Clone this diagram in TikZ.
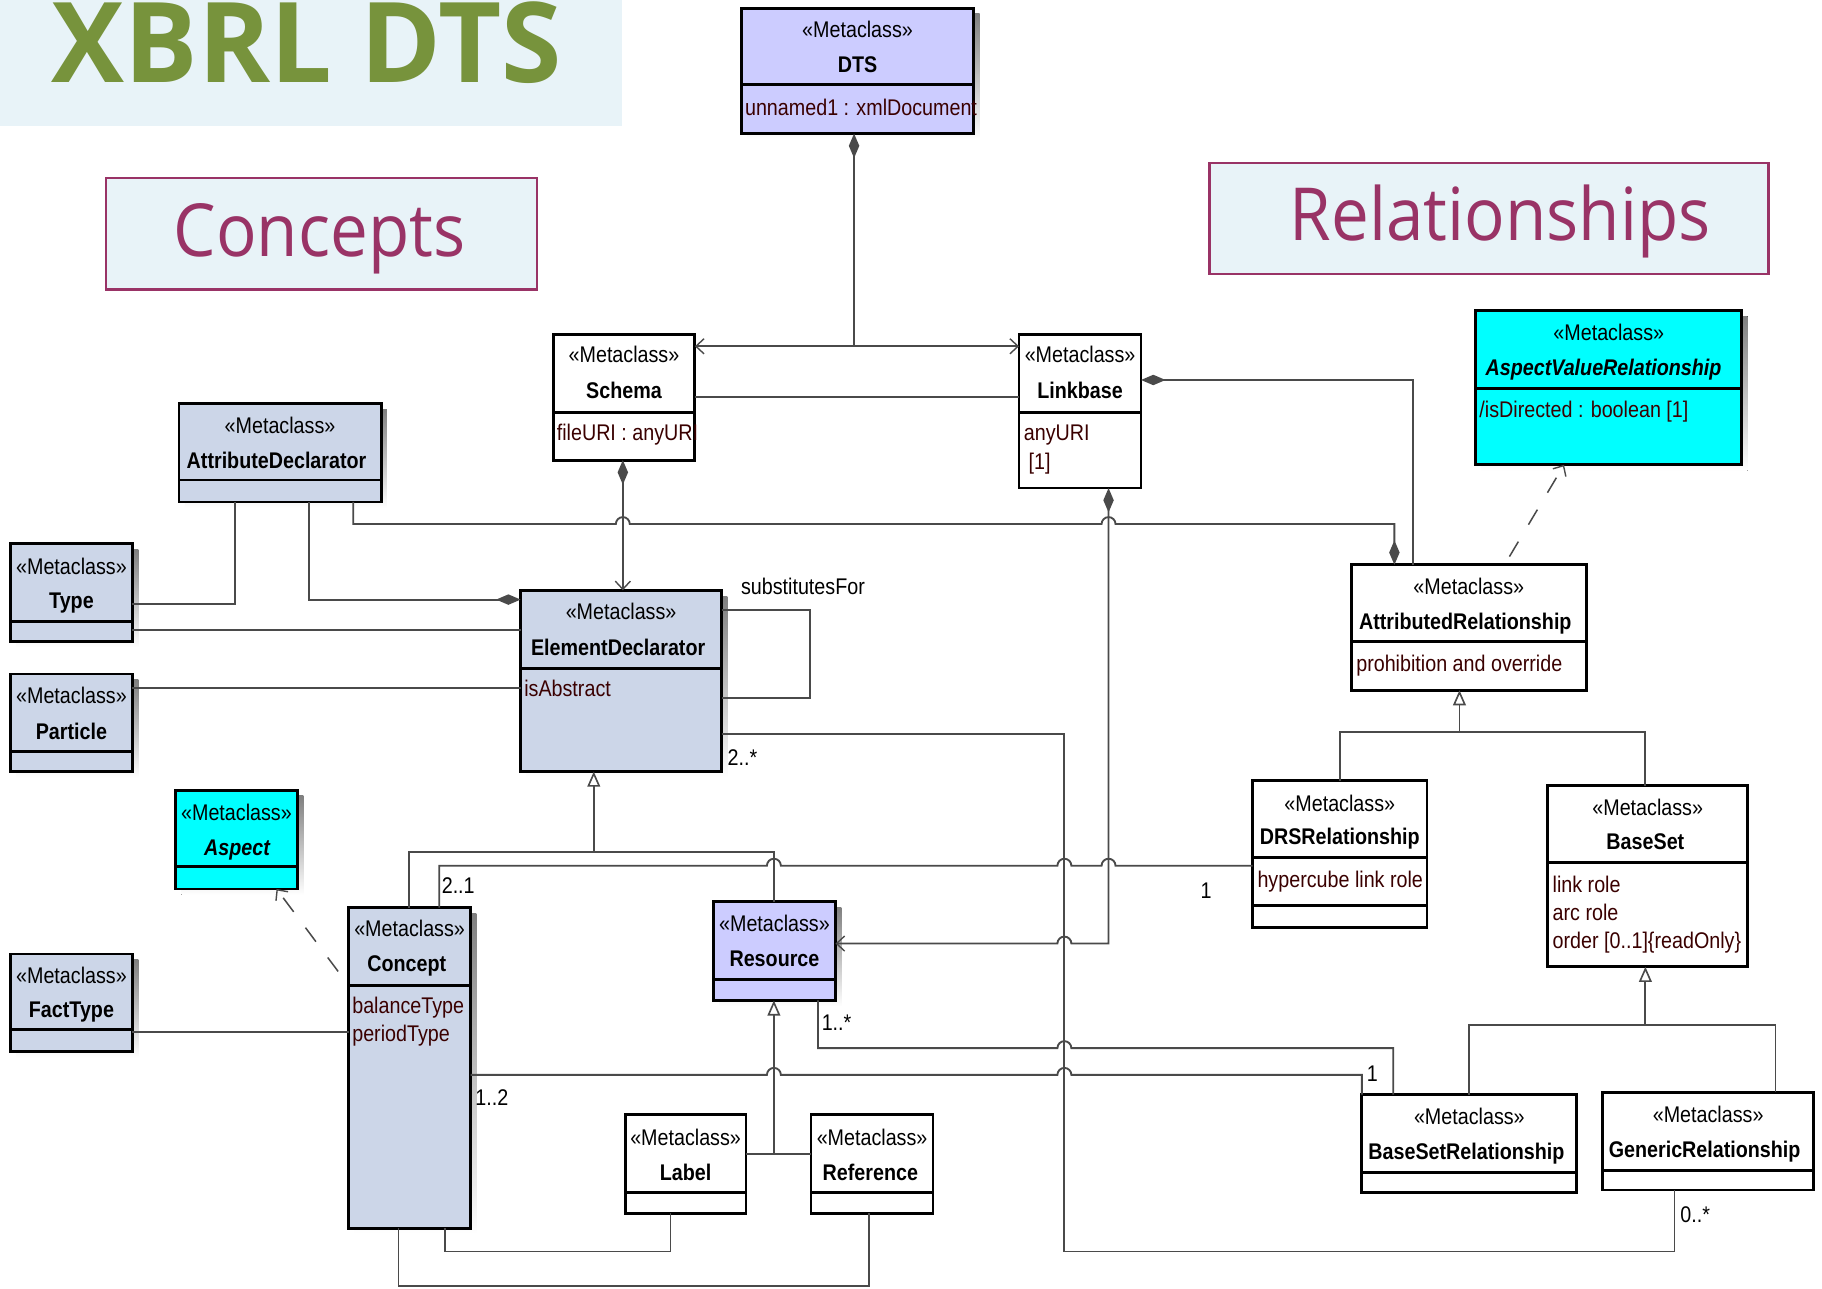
\documentclass[tikz,border=0pt]{standalone}
\usepackage{fontspec}
\setmainfont[FakeStretch=0.87]{Liberation Sans}
\newfontfamily\titlefont[FakeStretch=0.92]{Open Sans}
\newfontfamily\bannerfont[FakeStretch=0.98]{Open Sans}
\usetikzlibrary{arrows.meta}

\definecolor{lav}{HTML}{CCCCFF}
\definecolor{steel}{HTML}{CCD6E8}
\definecolor{aqua}{HTML}{00FFFF}
\definecolor{panel}{HTML}{E8F3F8}
\definecolor{plum}{HTML}{993366}
\definecolor{olive}{HTML}{77933C}
\definecolor{linec}{HTML}{4A4A4A}
\definecolor{maroon}{HTML}{3A0000}
\definecolor{shade}{HTML}{ABABAB}

% class box: name, x1, y1, x2, y2, extra options
\newcommand\classbox[6]{%
  \pgfmathsetmacro\bw{#4-#2}\pgfmathsetmacro\bh{#5-#3}%
  \node[box,#6,minimum width=\bw pt,minimum height=\bh pt,anchor=north west] (#1) at (#2,#3) {};}
% the same with a drop shadow
\newcommand\shadedbox[6]{%
  \fill[shade] (#2+5,#3+5) rectangle (#4+5,#5+5);
  \classbox{#1}{#2}{#3}{#4}{#5}{#6}}
% compartment divider
\newcommand\divline[3]{\draw[div] (#1,#3) -- (#2,#3);}

\begin{document}
\begin{tikzpicture}[x=1pt,y=-1pt,
  box/.style={draw=black,line width=2.4pt,rectangle,inner sep=0pt,outer sep=0pt},
  div/.style={draw=black,line width=2.4pt},
  conn/.style={draw=linec,line width=1.6pt},
  dsh/.style={draw=linec,line width=1.3pt,dash pattern=on 15pt off 17pt},
  txt/.style={inner sep=0pt,font=\fontsize{19.5}{22}\selectfont},
  meta/.style={txt,anchor=base},
  cname/.style={txt,anchor=base,font=\fontsize{19.5}{22}\selectfont\bfseries},
  iname/.style={txt,anchor=base,font=\fontsize{19.5}{22}\selectfont\bfseries\itshape},
  attr/.style={txt,anchor=base west,text=maroon},
  mult/.style={txt,anchor=base west},
  dia/.tip={Diamond[length=21pt,width=9pt]},
  nav/.tip={Straight Barb[length=7pt,width=13pt,line width=1.2pt]},
  gen/.tip={Triangle[open,length=13pt,width=11pt,fill=white,line width=1.4pt]},
  hopr/.style 2 args={insert path={-- (#1-6,#2) arc[start angle=180,end angle=360,radius=6]}},
  hopl/.style 2 args={insert path={-- (#1+6,#2) arc[start angle=0,end angle=-180,radius=6]}},
  ]
\useasboundingbox (0,0) rectangle (1568,1109);
\fill[white] (0,0) rectangle (1568,1109);

% headings
\fill[panel] (0,0) rectangle (535,108);
\node[anchor=base,inner sep=0pt,text=olive,font=\bannerfont\fontsize{96}{100}\selectfont\bfseries] (title) at (264,71) {XBRL DTS};
\node[draw=plum,line width=2pt,fill=panel,minimum width=371pt,minimum height=96pt,anchor=north west] (concepts) at (90,152) {};
\node[anchor=base,inner sep=0pt,text=plum,font=\titlefont\fontsize{63}{66}\selectfont] at (275,221) {Concepts};
\node[draw=plum,line width=2pt,fill=panel,minimum width=481pt,minimum height=96pt,anchor=north west] (rels) at (1040,139) {};
\node[anchor=base,inner sep=0pt,text=plum,font=\titlefont\fontsize{63}{66}\selectfont] at (1291,207) {Relationships};

% ---------------- classes ----------------
\shadedbox{dts}{638}{7}{838}{115}{fill=lav}
\node[meta] at (738,32) {«Metaclass»};
\node[cname] at (738,62) {DTS};
\divline{638}{838}{73}
\node[attr] at (641,99) {unnamed1 : xmlDocument};

\classbox{schema}{476}{288}{598}{396}{fill=white}
\node[meta] at (537,312) {«Metaclass»};
\node[cname] at (537,343) {Schema};
\divline{476}{598}{355}
\node[attr] at (479,379) {fileURI : anyURI};

\classbox{linkbase}{877}{288}{982}{420}{fill=white}
\node[meta] at (929.5,312) {«Metaclass»};
\node[cname] at (929.5,343) {Linkbase};
\divline{877}{982}{355}
\node[attr] at (881,379) {anyURI};
\node[attr] at (885,404) {[1]};

\shadedbox{avr}{1270}{267}{1499}{400}{fill=aqua}
\node[meta] at (1384.5,293) {«Metaclass»};
\node[iname] at (1380,323) {AspectValueRelationship};
\divline{1270}{1499}{334}
\node[attr] at (1273,359) {/isDirected : boolean [1]};

\shadedbox{attrdecl}{154}{347}{328}{432}{fill=steel}
\node[meta] at (241,373) {«Metaclass»};
\node[cname] at (238,403) {AttributeDeclarator};
\divline{154}{328}{413}

\shadedbox{type}{9}{468}{114}{552}{fill=steel}
\node[meta] at (61.5,494) {«Metaclass»};
\node[cname] at (61.5,524) {Type};
\divline{9}{114}{535}

\shadedbox{particle}{9}{580}{114}{664}{fill=steel}
\node[meta] at (61.5,605) {«Metaclass»};
\node[cname] at (61.5,636) {Particle};
\divline{9}{114}{647}

\shadedbox{eldecl}{448}{508}{621}{664}{fill=steel}
\node[meta] at (534.5,533) {«Metaclass»};
\node[cname] at (532,564) {ElementDeclarator};
\divline{448}{621}{575}
\node[attr] at (451,599) {isAbstract};

\shadedbox{aspect}{151}{680}{256}{765}{fill=aqua}
\node[meta] at (203.5,706) {«Metaclass»};
\node[iname] at (204,736) {Aspect};
\divline{151}{256}{746}

\shadedbox{facttype}{9}{821}{114}{905}{fill=steel}
\node[meta] at (61.5,846) {«Metaclass»};
\node[cname] at (61.5,876) {FactType};
\divline{9}{114}{886}

\shadedbox{concept}{300}{781}{405}{1057}{fill=steel}
\node[meta] at (352.5,806) {«Metaclass»};
\node[cname] at (350,836) {Concept};
\divline{300}{405}{848}
\node[attr] at (303,872) {balanceType};
\node[attr] at (303,896) {periodType};

\shadedbox{resource}{614}{776}{719}{861}{fill=lav}
\node[meta] at (666.5,802) {«Metaclass»};
\node[cname] at (666.5,832) {Resource};
\divline{614}{719}{843}

\classbox{lbl}{538}{959}{642}{1044}{fill=white}
\node[meta] at (590,986) {«Metaclass»};
\node[cname] at (590,1016) {Label};
\divline{538}{642}{1026}

\classbox{reference}{698}{959}{803}{1044}{fill=white}
\node[meta] at (750.5,986) {«Metaclass»};
\node[cname] at (749,1016) {Reference};
\divline{698}{803}{1026}

\classbox{attrrel}{1163}{486}{1365}{594}{fill=white}
\node[meta] at (1264,512) {«Metaclass»};
\node[cname] at (1261,542) {AttributedRelationship};
\divline{1163}{1365}{552}
\node[attr] at (1167,578) {prohibition and override};

\classbox{drs}{1078}{672}{1228}{798}{fill=white}
\node[meta] at (1153,698) {«Metaclass»};
\node[cname] at (1153,727) {DRSRelationship};
\divline{1078}{1228}{738}
\node[attr] at (1082,764) {hypercube link role};
\divline{1078}{1228}{779}

\classbox{baseset}{1332}{676}{1504}{832}{fill=white}
\node[meta] at (1418,702) {«Metaclass»};
\node[cname] at (1416,731) {BaseSet};
\divline{1332}{1504}{742}
\node[attr] at (1336,768) {link role};
\node[attr] at (1336,792) {arc role};
\node[attr] at (1336,816) {order [0..1]\{readOnly\}};

\classbox{bsr}{1172}{942}{1357}{1026}{fill=white}
\node[meta] at (1264.5,968) {«Metaclass»};
\node[cname] at (1262,998) {BaseSetRelationship};
\divline{1172}{1357}{1009}

\classbox{generic}{1379}{940}{1561}{1024}{fill=white}
\node[meta] at (1470,966) {«Metaclass»};
\node[cname] at (1467,996) {GenericRelationship};
\divline{1379}{1561}{1007}

% ---------------- connectors ----------------
% DTS owns schemas and linkbases
\draw[conn,{dia}-] (735,0 |- dts.south) -- (735,298);
\draw[conn,{nav}-{nav}] (schema.east |- 0,298) -- (linkbase.west |- 0,298);
\draw[conn] (schema.east |- 0,342) -- (linkbase.west |- 0,342);
% linkbase owns relationships
\draw[conn,{dia}-] (linkbase.east |- 0,327) -- (1216,327) -- (1216,0 |- attrrel.north);
% attribute declarators on relationships
\draw[conn,-{dia}] (304,0 |- attrdecl.south) -- (304,451) [hopr={536}{451}] [hopr={954}{451}] -- (1200,451) -- (1200,0 |- attrrel.north);
% schema contains element declarators
\draw[conn,{dia}-{nav}] (536,0 |- schema.south) -- (536,0 |- eldecl.north);
% linkbase contains resources
\draw[conn,{dia}-{nav}] (954,0 |- linkbase.south) -- (954,812) [hopl={916}{812}] -- (resource.east |- 0,812);
% attribute declarator links
\draw[conn] (202,0 |- attrdecl.south) -- (202,520) -- (type.east |- 0,520);
\draw[conn,-{dia}] (266,0 |- attrdecl.south) -- (266,516) -- (eldecl.west |- 0,516);
\draw[conn] (type.east |- 0,542) -- (eldecl.west |- 0,542);
\draw[conn] (particle.east |- 0,592) -- (eldecl.west |- 0,592);
% substitution group
\draw[conn] (eldecl.east |- 0,525) -- (697,525) -- (697,601) -- (eldecl.east |- 0,601);
\node[txt,anchor=base] at (691,512) {substitutesFor};
% element declarators to generic relationship
\draw[conn] (eldecl.east |- 0,632) -- (916,632) -- (916,1077) -- (1441,1077) -- (1441,0 |- generic.south);
\node[mult] at (626,659) {2..*};
\node[mult] at (1446,1052) {0..*};
% concept and resource specialise element declarator
\draw[conn,-{gen}] (511,733) -- (511,0 |- eldecl.south);
\draw[conn] (352,0 |- concept.north) -- (352,733) -- (666,733) -- (666,0 |- resource.north);
% concept to DRS relationship
\draw[conn] (378,0 |- concept.north) -- (378,745) [hopr={666}{745}] [hopr={916}{745}] [hopr={954}{745}] -- (drs.west |- 0,745);
\node[mult] at (380,769) {2..1};
\node[mult] at (1033,773) {1};
% concept to base set relationship
\draw[conn] (concept.east |- 0,925) [hopr={666}{925}] [hopr={916}{925}] -- (1172,925) -- (1172,0 |- bsr.north);
\node[mult] at (409,951) {1..2};
\node[mult] at (1176,931) {1};
% resource to base set relationship
\draw[conn] (704,0 |- resource.south) -- (704,902) [hopr={916}{902}] -- (1199,902) -- (1199,0 |- bsr.north);
\node[mult] at (707,887) {1..*};
% label and reference specialise resource
\draw[conn] (lbl.east |- 0,993) -- (reference.west |- 0,993);
\draw[conn,-{gen}] (666,993) -- (666,0 |- resource.south);
% concept to label and reference
\draw[conn] (383,0 |- concept.south) -- (383,1077) -- (577,1077) -- (577,0 |- lbl.south);
\draw[conn] (343,0 |- concept.south) -- (343,1107) -- (748,1107) -- (748,0 |- reference.south);
% fact type
\draw[conn] (facttype.east |- 0,888) -- (concept.west |- 0,888);
% realisations
\draw[dsh,-{nav}] (291,836) -- (238,0 |- aspect.south);
\draw[dsh,-{nav}] (1299,479) -- (1346,0 |- avr.south);
% relationship hierarchy
\draw[conn,-{gen}] (1256,630) -- (1256,0 |- attrrel.south);
\draw[conn] (1153,0 |- drs.north) -- (1153,630) -- (1416,630) -- (1416,0 |- baseset.north);
\draw[conn,-{gen}] (1416,882) -- (1416,0 |- baseset.south);
\draw[conn] (1264,0 |- bsr.north) -- (1264,882) -- (1528,882) -- (1528,0 |- generic.north);
\end{tikzpicture}
\end{document}
